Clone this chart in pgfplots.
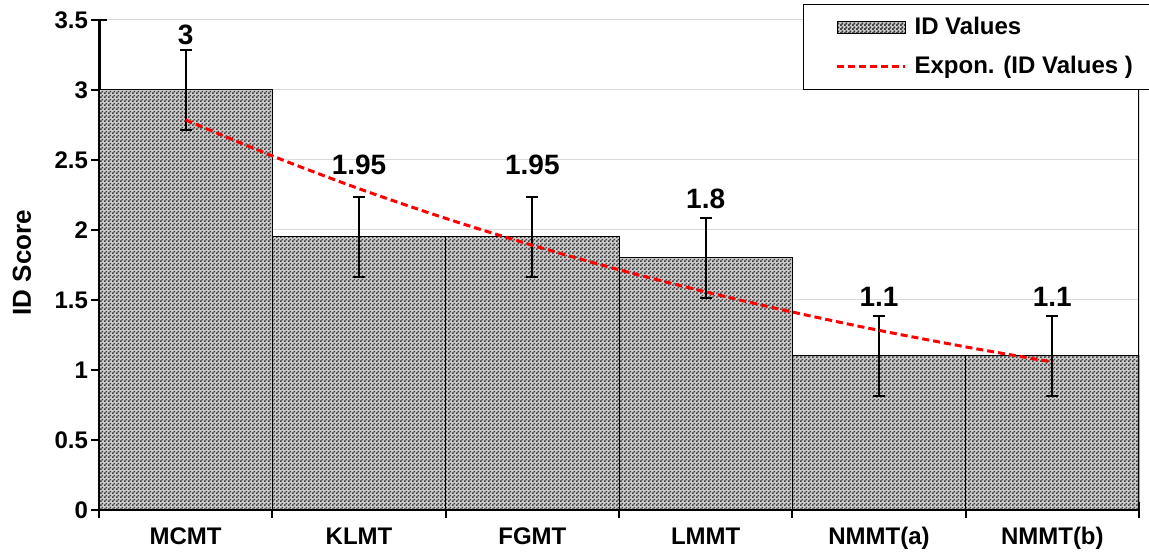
\documentclass[border=0pt]{standalone}
\usepackage{fontspec}
\setmainfont{Liberation Sans}
\usepackage{pgfplots}
\pgfplotsset{compat=1.18}
\usetikzlibrary{patterns}
\pgfdeclarepatternformonly{checker}{\pgfpointorigin}{\pgfqpoint{2pt}{2pt}}{\pgfqpoint{2pt}{2pt}}{%
 \pgfpathrectangle{\pgfpointorigin}{\pgfqpoint{1pt}{1pt}}%
 \pgfpathrectangle{\pgfqpoint{1pt}{1pt}}{\pgfqpoint{1pt}{1pt}}%
 \pgfusepath{fill}}
\definecolor{trend}{RGB}{255,0,0}
\definecolor{barbg}{RGB}{205,205,205}
\definecolor{barfg}{RGB}{60,60,60}
\begin{document}
\begin{tikzpicture}
\begin{axis}[name=ax, scale only axis, width=520pt, height=245pt,
 xmin=-0.5, xmax=5.5, ymin=0, ymax=3.5,
 axis x line*=bottom, axis y line*=left,
 axis line style={line width=1.5pt, -},
 xtick={-0.5,0.5,1.5,2.5,3.5,4.5,5.5},
 xticklabels={MCMT,KLMT,FGMT,LMMT,NMMT(a),NMMT(b),{}},
 x tick label style={anchor=base, xshift=43.333pt, yshift=-13.5pt},
 y tick label style={xshift=2pt},
 ytick={0,0.5,1,1.5,2,2.5,3,3.5},
 ytick pos=left, xtick pos=bottom,
 tick align=center, major tick length=8pt,
 tick style={line width=1pt, black},
 /pgf/number format/assume math mode=true,
 /pgf/number format/fixed,
 ticklabel style={font=\bfseries\fontsize{12}{14}\selectfont},
 ymajorgrids, grid style={black!15, line width=0.5pt},
 ylabel={ID Score},
 ylabel style={font=\bfseries\fontsize{13}{15}\selectfont, at={(axis description cs:-0.074,0.505)}, anchor=center},
 legend style={at={(0.677,1.0327)}, anchor=north west, draw=black, line width=0.5pt,
   inner xsep=16pt, inner ysep=4.5pt, row sep=5pt, column sep=2pt, legend cell align=left,
   nodes={inner sep=2pt, font=\bfseries\fontsize{12}{14}\selectfont}},
]
\addplot[ybar, bar width=1, draw=black, line width=0.5pt, fill=barbg, postaction={pattern=checker, pattern color=barfg},
  legend image code/.code={\draw[fill=barbg, postaction={pattern=checker, pattern color=barfg}, draw=black, line width=0.5pt] (0pt,-3pt) rectangle (34pt,3pt);},
  error bars/.cd, y dir=both, y explicit,
  error bar style={line width=0.85pt, black, solid},
  error mark=-,
  error mark options={rotate=90, mark size=3pt, line width=0.85pt, draw=black, solid}]
 coordinates {(0,3) +- (0,0.285) (1,1.95) +- (0,0.285) (2,1.95) +- (0,0.285) (3,1.8) +- (0,0.285) (4,1.1) +- (0,0.285) (5,1.1) +- (0,0.285)};
\addlegendentry{\makebox[145pt][l]{ID Values}}
\addplot[trend, line width=1.5pt, dash pattern=on 3.5pt off 2pt, mark=none, smooth,
  legend image code/.code={\draw[trend, line width=1.5pt, dash pattern=on 3.5pt off 2pt] (0pt,0pt) -- (34pt,0pt);}]
 coordinates {(0,2.786) (0.5,2.529) (1,2.295) (1.5,2.083) (2,1.891) (2.5,1.716) (3,1.558) (3.5,1.414) (4,1.283) (4.5,1.165) (5,1.057)};
\addlegendentry{\makebox[145pt][l]{Expon. (ID Values )}}
\addplot[draw=none, mark=none, forget plot, nodes near coords, point meta=explicit symbolic,
  nodes near coords style={anchor=center, font=\bfseries\fontsize{14}{16}\selectfont, black}]
 coordinates {(0,3.393)[3] (1,2.464)[1.95] (2,2.464)[1.95] (3,2.225)[1.8] (4,1.521)[1.1] (5,1.521)[1.1]};
\draw[black, line width=0.6pt] (rel axis cs:1,0) -- (rel axis cs:1,1);
\end{axis}
\pgfresetboundingbox
\path[use as bounding box] ([xshift=-49.5pt,yshift=-22pt]ax.south west) rectangle ([xshift=5pt,yshift=10pt]ax.north east);
\end{tikzpicture}
\end{document}
